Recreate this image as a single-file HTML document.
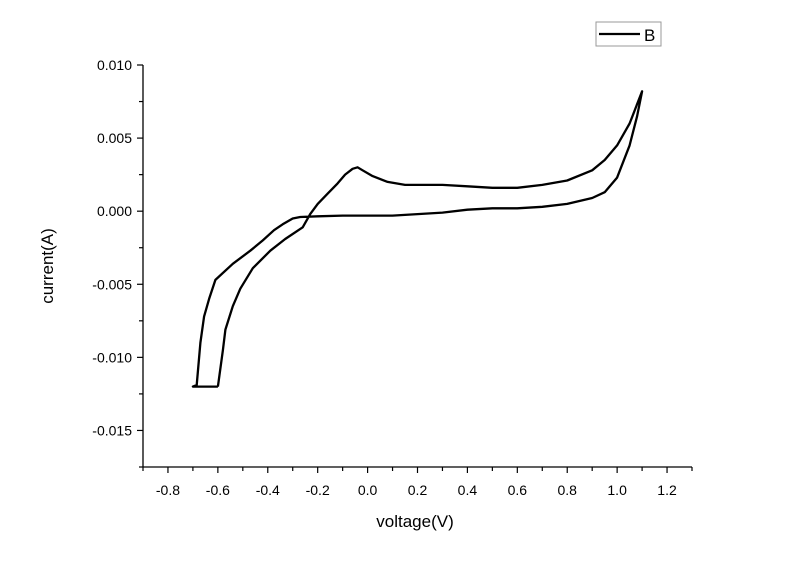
<!DOCTYPE html>
<html><head><meta charset="utf-8"><style>
body{margin:0;background:#fff}
svg{display:block;font-family:"Liberation Sans",Arial,sans-serif}
</style></head><body>
<svg id="chart" width="800" height="561">
<g id="axes"></g>
<path id="curve" fill="none" stroke="#000" stroke-width="2.3" stroke-linejoin="round"/>
<g>
<rect x="596" y="22" width="65" height="24" fill="#fff" stroke="#999" stroke-width="1"/>
<line x1="599" y1="34" x2="640" y2="34" stroke="#000" stroke-width="2.3"/>
<text x="644" y="41" font-size="17">B</text>
</g>
<text x="415" y="527" font-size="17" text-anchor="middle">voltage(V)</text>
<text transform="translate(53,266) rotate(-90)" font-size="17" text-anchor="middle">current(A)</text>
</svg>
<script>
const voltage=[-0.6,-0.58,-0.57,-0.54,-0.51,-0.46,-0.39,-0.33,-0.26,-0.23,-0.2,-0.16,-0.12,-0.09,-0.06,-0.04,-0.02,0.02,0.08,0.15,0.2,0.3,0.4,0.5,0.6,0.7,0.8,0.9,0.95,1.0,1.05,1.1,
1.08,1.05,1.0,0.95,0.9,0.8,0.7,0.6,0.5,0.4,0.3,0.2,0.1,0.0,-0.1,-0.2,-0.27,-0.3,-0.34,-0.375,-0.42,-0.47,-0.54,-0.61,-0.635,-0.655,-0.67,-0.685,-0.7,-0.6];
const current=[-0.012,-0.0095,-0.0081,-0.0065,-0.0053,-0.0039,-0.0027,-0.0019,-0.0011,-0.0002,0.0005,0.0012,0.0019,0.0025,0.0029,0.003,0.0028,0.0024,0.002,0.0018,0.0018,0.0018,0.0017,0.0016,0.0016,0.0018,0.0021,0.0028,0.0035,0.0045,0.006,0.0082,
0.0065,0.0045,0.0023,0.0013,0.0009,0.0005,0.0003,0.0002,0.0002,0.0001,-0.0001,-0.0002,-0.0003,-0.0003,-0.0003,-0.00035,-0.0004,-0.0005,-0.0009,-0.0013,-0.002,-0.0027,-0.0036,-0.0047,-0.006,-0.0072,-0.009,-0.0119,-0.012,-0.012];
const xTicks=[-0.8,-0.6,-0.4,-0.2,0.0,0.2,0.4,0.6,0.8,1.0,1.2];
const xTickLabels=["-0.8","-0.6","-0.4","-0.2","0.0","0.2","0.4","0.6","0.8","1.0","1.2"];
const yTicks=[0.010,0.005,0.000,-0.005,-0.010,-0.015];
const yTickLabels=["0.010","0.005","0.000","-0.005","-0.010","-0.015"];
const X0=143,X1=692,Y0=467,Y1=65;
const xMin=-0.9,xMax=1.3,yMin=-0.0175,yMax=0.010;
const sx=v=>X0+(v-xMin)/(xMax-xMin)*(X1-X0);
const sy=v=>Y0-(v-yMin)/(yMax-yMin)*(Y0-Y1);
const NS="http://www.w3.org/2000/svg";
const ax=document.getElementById('axes');
function mk(tag,attrs){const e=document.createElementNS(NS,tag);for(const k in attrs)e.setAttribute(k,attrs[k]);ax.appendChild(e);return e;}
let l=mk('line',{x1:X0,y1:Y1,x2:X0,y2:Y0,stroke:'#000','stroke-width':1.3});


l=mk('line',{x1:X0,y1:Y0,x2:X1,y2:Y0,stroke:'#000','stroke-width':1.3});


for(let v=-0.9;v<=1.3001;v+=0.1){const x=sx(v);const major=xTicks.some(t=>Math.abs(t-v)<1e-6);
 mk('line',{x1:x,y1:Y0,x2:x,y2:Y0+(major?6:4),stroke:'#000','stroke-width':1.2});}
xTicks.forEach((t,i)=>{const e=mk('text',{x:sx(t),y:Y0+28,'font-size':14,'text-anchor':'middle'});e.textContent=xTickLabels[i];
 
 });
for(let v=-0.0175;v<=0.0101;v+=0.0025){const y=sy(v);const major=yTicks.some(t=>Math.abs(t-v)<1e-7);
 mk('line',{x1:X0,y1:y,x2:X0-(major?6:4),y2:y,stroke:'#000','stroke-width':1.2});}
yTicks.forEach((t,i)=>{const e=mk('text',{x:X0-11,y:sy(t)+5,'font-size':14,'text-anchor':'end'});e.textContent=yTickLabels[i];
 
 });
let d='';voltage.forEach((v,i)=>{d+=(i?'L':'M')+sx(v).toFixed(1)+','+sy(current[i]).toFixed(1);});
document.getElementById('curve').setAttribute('d',d);
</script>
</body></html>
